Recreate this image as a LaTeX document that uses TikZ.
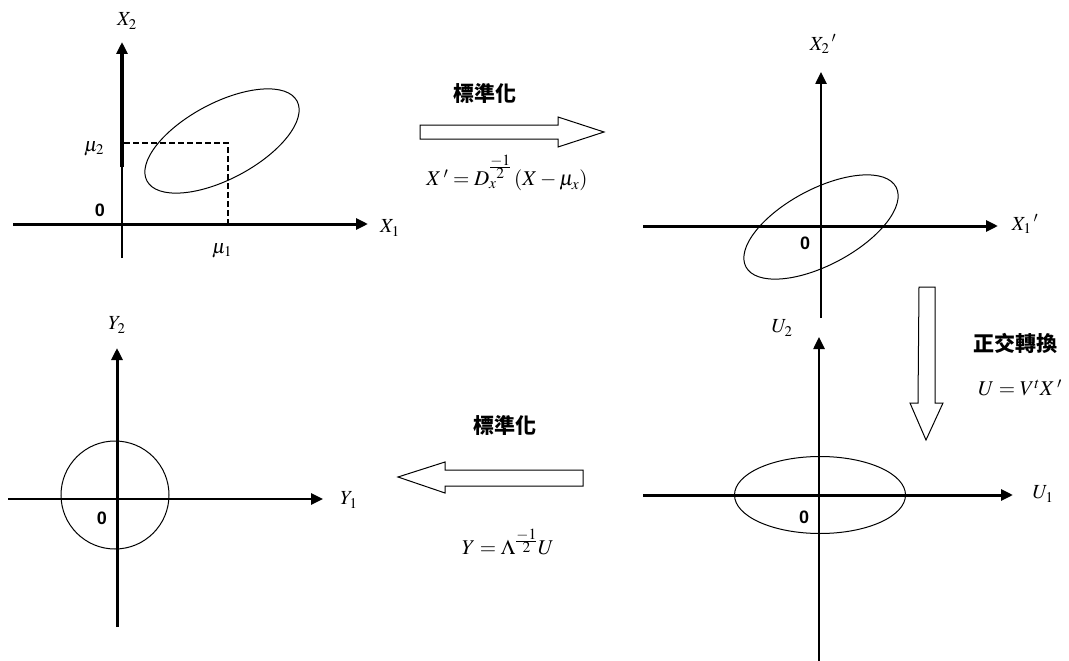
\documentclass[tikz,border=0pt]{standalone}
\usepackage{mathptmx}
\usepackage{fontspec}
\newfontfamily\cjkfont{Noto Sans CJK TC}
\newfontfamily\zerofont{Liberation Sans}
\usetikzlibrary{arrows.meta}
\newcommand{\halfexp}{\frac{\scriptstyle -1}{\scriptstyle 2}}
\begin{document}
\begin{tikzpicture}[x=1pt,y=-1pt,
  axis/.style={line width=3pt,-{Triangle[length=12pt,width=11pt]}},
  curve/.style={line width=1pt},
  hollow/.style={line width=1pt,fill=white,line join=miter},
  lab/.style={font=\fontsize{20}{24}\selectfont,inner sep=0pt},
  zero/.style={font=\zerofont\bfseries\fontsize{18}{21}\selectfont,inner sep=0pt},
  cjklab/.style={font=\cjkfont\bfseries\fontsize{21}{24}\selectfont,inner sep=0pt},
  formula/.style={font=\fontsize{21}{25}\selectfont,inner sep=0pt}]
\useasboundingbox[fill=white] (0,0) rectangle (1069,661);

% ---------- top-left panel ----------
\draw[axis] (13,224) -- (368,224);
\draw[line width=2.5pt] (122,258) -- (122,167);
\draw[axis,line width=3.5pt] (122,167) -- (122,42);
\draw[dash pattern=on 6pt off 3pt,line width=2pt] (124,143) -- (228,143) -- (228,224);
\draw[curve,rotate around={28:(222,141)}] (222,141) ellipse [x radius=85pt,y radius=38pt];
\node[lab] (tlx2) at (127,21) {$X_{2}$};
\node[lab] (tlx1) at (390,228) {$X_{1}$};
\node[zero] (tl0) at (100,210) {0};
\node[lab] (tlmu2) at (94,149) {$\mu_{2}$};
\node[lab] (tlmu1) at (222,251) {$\mu_{1}$};

% ---------- top arrow ----------
\node[cjklab] (std1) at (485,93) {標準化};
\draw[hollow] (420,125) -- (558,125) -- (558,117) -- (604,132) -- (558,147) -- (558,139) -- (420,139) -- cycle;
\node[formula] (f1) at (507,173) {$X\,'=D_{x}^{\halfexp}\,(X-\mu_{x})$};

% ---------- top-right panel ----------
\draw[axis] (643,226) -- (998,226);
\draw[axis,line width=2.5pt] (821,318) -- (821,72);
\draw[curve,rotate around={28:(821,227)}] (821,227) ellipse [x radius=85pt,y radius=38pt];
\node[lab] (trx2) at (823,44) {$X_{2}\,'$};
\node[lab] (trx1) at (1025,224) {$X_{1}\,'$};
\node[zero] (tr0) at (805,243) {0};

% ---------- right arrow ----------
\draw[hollow] (919,287) -- (935,287) -- (935,403) -- (943,403) -- (926,440) -- (910,403) -- (918,403) -- cycle;
\node[cjklab] (orth) at (1015,343) {正交轉換};
\node[formula] (f2) at (1020,388) {$U=V^{t}X\,'$};

% ---------- bottom-right panel ----------
\draw[axis] (643,495) -- (1013,495);
\draw[axis,line width=2.5pt] (819,661) -- (819,337);
\draw[curve] (820,495) ellipse [x radius=85.5pt,y radius=38.5pt];
\node[lab] (bru2) at (782,328) {$U_{2}$};
\node[lab] (bru1) at (1043,494) {$U_{1}$};
\node[zero] (br0) at (804,517) {0};

% ---------- bottom arrow ----------
\node[cjklab] (std2) at (505,425) {標準化};
\draw[hollow] (398,477) -- (445,462) -- (445,470) -- (583,470) -- (583,486) -- (445,486) -- (445,493) -- cycle;
\node[formula] (f3) at (508,542) {$Y=\Lambda^{\halfexp}U$};

% ---------- bottom-left panel ----------
\draw[axis,line width=2.5pt] (8,499) -- (323,499);
\draw[axis] (117,627) -- (117,348);
\draw[curve] (115,495) circle [radius=54pt];
\node[lab] (bly2) at (117,325) {$Y_{2}$};
\node[lab] (bly1) at (349,500) {$Y_{1}$};
\node[zero] (bl0) at (102,518) {0};
\end{tikzpicture}
\end{document}
